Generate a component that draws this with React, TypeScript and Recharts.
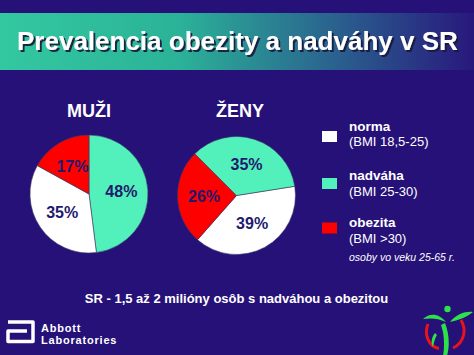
import { PieChart, Pie, Cell } from "recharts"

const menNames = ["nadváha", "norma", "obezita"]
const menValues = [48, 35, 17]
const womenNames = ["norma", "obezita", "nadváha"]
const womenValues = [39, 26, 35]
const legendNames = ["norma", "nadváha", "obezita"]
const legendRanges = ["(BMI 18,5-25)", "(BMI 25-30)", "(BMI >30)"]
const colors: Record<string, string> = { norma: "#ffffff", "nadváha": "#52f0bb", obezita: "#ff0000" }

const menData = menNames.map((n, i) => ({ name: n, v: menValues[i] }))
const womenData = womenNames.map((n, i) => ({ name: n, v: womenValues[i] }))

const FONT = "'Liberation Sans', Arial, Helvetica, sans-serif"
const BG = "#251178"
const RAD = Math.PI / 180

function pctLabel(p: any) {
  const r = p.outerRadius * 0.55
  const x = p.cx + r * Math.cos(-p.midAngle * RAD)
  const y = p.cy + r * Math.sin(-p.midAngle * RAD)
  return (
    <text x={x} y={y} fill="#221a6e" textAnchor="middle" dominantBaseline="central"
      fontSize={16} fontWeight="bold" fontFamily={FONT}>{p.value}%</text>
  )
}

function Decor() {
  return (
    <svg width={474} height={355} style={{ position: "absolute", left: 0, top: 0 }}>
      <defs>
        <linearGradient id="bar" x1="0" x2="1" y1="0" y2="0">
          <stop offset="0%" stopColor="#33c8a0" />
          <stop offset="38%" stopColor="#2bb298" />
          <stop offset="72%" stopColor="#2a5e8e" />
          <stop offset="100%" stopColor="#28187c" />
        </linearGradient>
        <filter id="shadow" x="-5%" y="-30%" width="110%" height="160%">
          <feDropShadow dx={2} dy={2} stdDeviation={0.6} floodColor="#14183a" floodOpacity={0.9} />
        </filter>
      </defs>
      <rect x={0} y={13} width={474} height={57} fill="url(#bar)" />
      <text x={17} y={49.5} fill="#ffffff" fontSize={26} fontWeight="bold" fontFamily={FONT} filter="url(#shadow)">
        Prevalencia obezity a nadváhy v SR
      </text>

      <text x={89} y={116.5} fill="#fff" fontSize={18} fontWeight="bold" fontFamily={FONT} textAnchor="middle">MUŽI</text>
      <text x={240} y={116.5} fill="#fff" fontSize={18} fontWeight="bold" fontFamily={FONT} textAnchor="middle">ŽENY</text>

      {legendNames.map((n, i) => {
        const base = [130.5, 180, 227.3][i]
        const sq = [131, 178, 222.5][i]
        return (
          <g key={n}>
            <rect x={322} y={sq} width={15} height={11} fill={colors[n]} />
            <text x={349} y={base} fill="#fff" fontSize={13.5} fontWeight="bold" fontFamily={FONT}>{n}</text>
            <text x={349} y={base + 15.5} fill="#fff" fontSize={13} fontFamily={FONT}>{legendRanges[i]}</text>
          </g>
        )
      })}
      <text x={349} y={260.5} fill="#fff" fontSize={10.5} fontStyle="italic" fontFamily={FONT}>osoby vo veku 25-65 r.</text>

      <text x={236.5} y={302.5} fill="#fff" fontSize={13} fontWeight="bold" fontFamily={FONT} textAnchor="middle">
        SR - 1,5 až 2 milióny osôb s nadváhou a obezitou
      </text>

      {/* Abbott logo */}
      <path d="M 8 322 H 33 V 341.5 H 8 V 331 H 27" fill="none" stroke="#fff" strokeWidth={3.5} strokeLinejoin="round" />
      <text x={41} y={331.5} fill="#fff" fontSize={11} fontWeight="bold" fontFamily={FONT} letterSpacing={0.8}>Abbott</text>
      <text x={41} y={343.5} fill="#fff" fontSize={11} fontWeight="bold" fontFamily={FONT} letterSpacing={0.8}>Laboratories</text>

      {/* apple figure logo */}
      <path d="M 428 324 C 424 334, 428 346, 439 348.5" fill="none" stroke="#e8141c" strokeWidth={3} />
      <path d="M 461 320 C 467 330, 464 343, 453 348" fill="none" stroke="#e8141c" strokeWidth={3} />
      <path d="M 423 319 C 430 312, 440 314, 446 322 C 438 318, 430 318, 423 319 Z" fill="#2ee04a" />
      <path d="M 450 322 C 456 314, 466 311, 473 312 C 466 318, 458 320, 450 322 Z" fill="#2ee04a" />
      <path d="M 445 323 C 449 333, 450 345, 447 356 L 443 356 C 445 345, 444 333, 441 325 Z" fill="#2ee04a" />
      <path d="M 435 333 C 431 338, 431 343, 433 347 C 434 342, 435 338, 437 335 Z" fill="#2ee04a" />
      <circle cx={447.5} cy={309} r={3.2} fill="#2ee04a" />
    </svg>
  )
}

export default function App() {
  return (
    <div style={{ position: "absolute", left: 0, top: 0, width: 474, height: 355, background: BG, overflow: "hidden" }}>
      <Decor />
      <div style={{ position: "absolute", left: 0, top: 0 }}>
        <PieChart width={474} height={355} margin={{ top: 0, right: 0, bottom: 0, left: 0 }}>
          <Pie data={menData} dataKey="v" nameKey="name" cx={89} cy={194} outerRadius={59}
            startAngle={90} endAngle={-270} label={pctLabel} labelLine={false}
            stroke="#3a3a62" strokeWidth={0.6} isAnimationActive={false}>
            {menData.map((d) => <Cell key={d.name} fill={colors[d.name]} />)}
          </Pie>
          <Pie data={womenData} dataKey="v" nameKey="name" cx={236.5} cy={195.5} outerRadius={59}
            startAngle={9} endAngle={-351} label={pctLabel} labelLine={false}
            stroke="#3a3a62" strokeWidth={0.6} isAnimationActive={false}>
            {womenData.map((d) => <Cell key={d.name} fill={colors[d.name]} />)}
          </Pie>
        </PieChart>
      </div>
    </div>
  )
}
